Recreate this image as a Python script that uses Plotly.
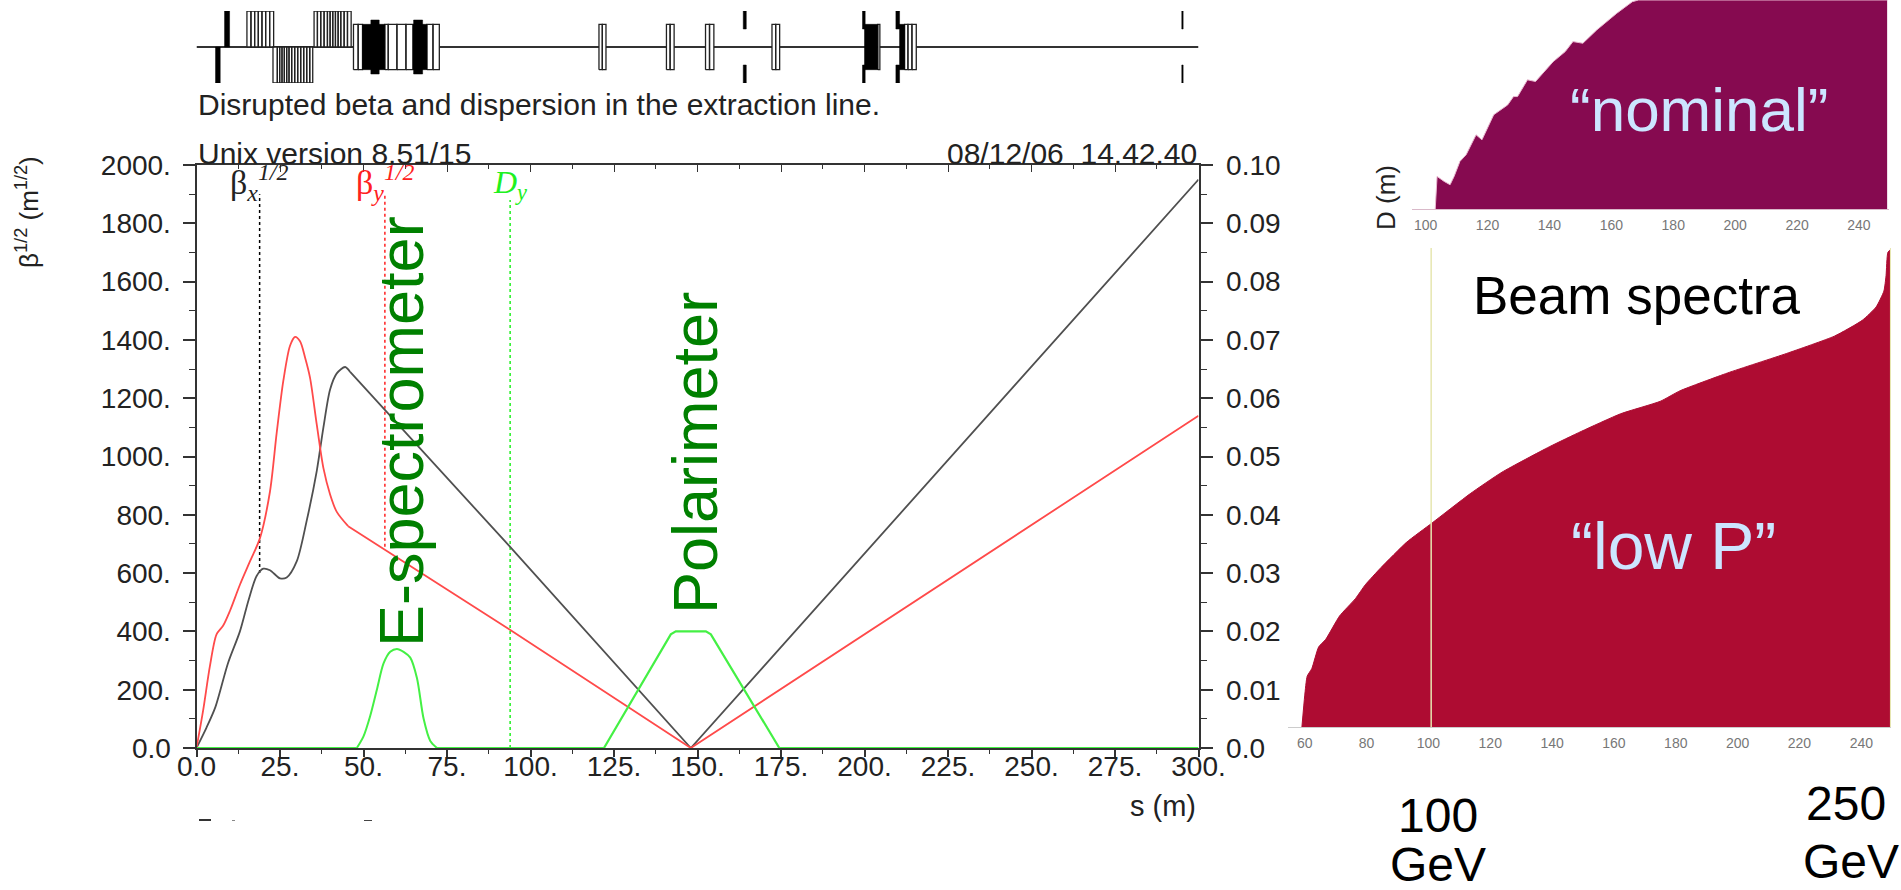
import plotly.graph_objects as go

W, H = 1901, 890
FONT = "Liberation Sans"
SERIF = "Liberation Serif"

# ---- optics plot data (curved part, then straight drift part)
s_betax = [0, 3, 5.7, 9.4, 13, 15.6, 18, 20, 22, 25, 27, 30, 33, 36, 38, 40, 42, 44.5, 46]
betax = [0, 70, 142, 290, 400, 508, 590, 615, 610, 582, 585, 640, 780, 950, 1100, 1230, 1285, 1307, 1290]
s_betax_drift = [46, 93.5, 148, 300]
betax_drift = [1290, 695, 0, 1950]
s_betay = [0, 2, 4, 6, 8, 10, 13, 16, 19, 22, 24, 26, 28, 29.5, 31, 32.5, 34, 36, 38, 40, 42, 45.4]
betay = [0, 130, 280, 390, 420, 470, 560, 640, 720, 880, 1080, 1260, 1380, 1410, 1395, 1340, 1270, 1110, 960, 870, 810, 761]
s_betay_drift = [45.4, 93.5, 148, 300]
betay_drift = [761, 408, 0, 1140]
s_dy_bump = [48, 50, 52, 54, 56, 58, 60, 62, 64, 66, 68, 70, 72]
dy_bump = [0, .002, .0055, .01, .0145, .0165, .017, .0165, .0155, .012, .005, .0012, 0]
s_dy = [0, 48, None, 72, 122, 142, 143.5, 152.5, 154, 174.5, 300]
dy = [0, 0, None, 0, 0, .0195, .02, .02, .0195, 0, 0]

s_ticks = [0, 25, 50, 75, 100, 125, 150, 175, 200, 225, 250, 275, 300]
s_labels = ["0.0", "25.", "50.", "75.", "100.", "125.", "150.", "175.", "200.", "225.", "250.", "275.", "300."]
b_ticks = [0, 200, 400, 600, 800, 1000, 1200, 1400, 1600, 1800, 2000]
b_labels = ["0.0", "200.", "400.", "600.", "800.", "1000.", "1200.", "1400.", "1600.", "1800.", "2000."]
d_ticks = [0, .01, .02, .03, .04, .05, .06, .07, .08, .09, .10]
d_labels = ["0.0", "0.01", "0.02", "0.03", "0.04", "0.05", "0.06", "0.07", "0.08", "0.09", "0.10"]

legend_s = [18.9, 56.4, 93.9]
legend_bottom = [600, 690, 0]
legend_top = [1900, 1900, 1880]

# ---- beamline elements (s start, s end, low, high)
solid_start = [8.4, 5.7, 49.7, 52.2, 64.8, 65, 163.7, 163.7, 199.4, 199.4, 200, 209.4, 209.4, 210.5, 295, 295]
solid_end = [9.9, 7.1, 56.4, 54.7, 69, 67.7, 164.6, 164.6, 200.2, 200.2, 204, 210.5, 210.5, 212, 295.4, 295.4]
solid_low = [0, -1, -.63, -.75, -.63, -.75, .5, -1, .5, -1, -.63, .5, -1, -.63, .5, -1]
solid_high = [1, 0, .63, .75, .63, .75, 1, -.5, 1, -.5, .63, 1, -.5, .63, 1, -.5]

hollow_low = [0, -1, 0, -.63, -.63, -.63, -.63, -.63, -.63, -.63, -.63, -.63]
hollow_high = [1, 0, 1, .63, .63, .63, .63, .63, .63, .63, .63, .63]
hollow_edges = [
    [15.1, 16.3, 17.4, 18.5, 19.6, 20.7, 21.9, 23.1],
    [22.9, 24.2, 24.9, 25.6, 26.3, 27, 27.7, 28.5, 29.4, 30.3, 31.2, 32.1, 33, 33.9, 34.8],
    [35.2, 36.2, 37.2, 38.2, 39.2, 40, 40.8, 41.6, 42.4, 43.2, 44.2, 45.2, 46.3],
    [47, 48.4, 49.7],
    [56.4, 57.4, 60, 62.7, 64.8],
    [69, 70.8, 72.7],
    [120.5, 121.5, 122.6],
    [140.7, 141.8, 143],
    [152.4, 153.6, 154.9],
    [172.3, 173.4, 174.6],
    [204, 204.6],
    [212, 213, 214.2, 215.5],
]

# ---- beam spectra data
nominal_e = [103.1, 103.7, 106, 107.9, 109.2, 111.1, 113.1, 116.3, 118.2, 122, 126.5, 128.4, 129.7, 132.9, 135.5, 141.2, 145.1, 147.6, 150.8, 155.3, 161.7, 166.8, 168.8, 249.1]
nominal_n = [0, 15.6, 13.2, 11.6, 15.6, 22.8, 26, 35.5, 33.1, 45.1, 49.8, 53.8, 53.8, 61.8, 61, 70.5, 75.3, 80.1, 79.3, 85.7, 93.6, 99.2, 100, 100]
lowp_e = [59.1, 60, 60.8, 62.3, 64.5, 66.8, 71.3, 76.4, 79.6, 84.7, 93, 101.2, 113.5, 123.8, 139.1, 149.4, 162.2, 175, 181.4, 196.7, 215.9, 231.3, 240.3, 244.8, 247.3, 248, 248.6, 250]
lowp_n = [0, 6.5, 10.6, 12.2, 16.7, 18.3, 23.2, 26.8, 29.7, 33.3, 38.6, 42.6, 48.7, 53.2, 58.5, 61.7, 65.4, 68, 70.2, 73.9, 78, 81.6, 84.9, 87.7, 91, 94.2, 99.1, 100]
nominal_ticks = [100, 120, 140, 160, 180, 200, 220, 240]
lowp_ticks = [60, 80, 100, 120, 140, 160, 180, 200, 220, 240]
marker_e = [100.9, 249.5]
marker_top = [102.7, 152]
marker_bottom = -7.7


def px(x):
    return x / W


def py(y):
    return 1 - y / H


fig = go.Figure()

# beamline
xs, ys = [], []
for a, b, lo, hi in zip(solid_start, solid_end, solid_low, solid_high):
    xs += [a, b, b, a, a, None]
    ys += [lo, lo, hi, hi, lo, None]
hx, hy = [], []
for edges, lo, hi in zip(hollow_edges, hollow_low, hollow_high):
    for a, b in zip(edges[:-1], edges[1:]):
        hx += [a, b, b, a, a, None]
        hy += [lo, lo, hi, hi, lo, None]
fig.add_trace(go.Scatter(x=[0, 300], y=[0, 0], xaxis="x3", yaxis="y3", mode="lines",
                         line=dict(color="#333333", width=2), showlegend=False))
fig.add_trace(go.Scatter(x=hx, y=hy, xaxis="x3", yaxis="y3", mode="lines", fill="toself", fillcolor="white",
                         line=dict(color="#222222", width=1.3), showlegend=False))
fig.add_trace(go.Scatter(x=xs, y=ys, xaxis="x3", yaxis="y3", mode="lines", fill="toself", fillcolor="black",
                         line=dict(color="black", width=0.5), showlegend=False))

# legend stems
for s0, lo, hi, col in zip(legend_s, legend_bottom, legend_top, ["black", "#ff2020", "#20f020"]):
    fig.add_trace(go.Scatter(x=[s0, s0], y=[lo, hi], mode="lines",
                             line=dict(color=col, width=1.5, dash="dot"), showlegend=False))

# optics
BLACK, RED, GREEN = "#505050", "#ff4a4a", "#44f044"
fig.add_trace(go.Scatter(x=s_betax, y=betax, mode="lines", line=dict(color=BLACK, width=1.8, shape="spline", smoothing=0.8), showlegend=False))
fig.add_trace(go.Scatter(x=s_betax_drift, y=betax_drift, mode="lines", line=dict(color=BLACK, width=1.8), showlegend=False))
fig.add_trace(go.Scatter(x=s_betay, y=betay, mode="lines", line=dict(color=RED, width=1.8, shape="spline", smoothing=0.8), showlegend=False))
fig.add_trace(go.Scatter(x=s_betay_drift, y=betay_drift, mode="lines", line=dict(color=RED, width=1.8), showlegend=False))
fig.add_trace(go.Scatter(x=s_dy, y=dy, yaxis="y2", mode="lines", line=dict(color=GREEN, width=2.2),
                         cliponaxis=False, showlegend=False))
fig.add_trace(go.Scatter(x=s_dy_bump, y=dy_bump, yaxis="y2", mode="lines",
                         line=dict(color=GREEN, width=2, shape="spline", smoothing=0.8),
                         cliponaxis=False, showlegend=False))

# spectra
fig.add_trace(go.Scatter(x=nominal_e, y=nominal_n, xaxis="x4", yaxis="y4", mode="lines", fill="tozeroy",
                         fillcolor="#860a50", line=dict(color="#e9b8d0", width=1), showlegend=False))
fig.add_trace(go.Scatter(x=lowp_e, y=lowp_n, xaxis="x5", yaxis="y5", mode="lines", fill="tozeroy",
                         fillcolor="#ae0c32", line=dict(color="#ae0c32", width=1, shape="spline", smoothing=0.5),
                         showlegend=False))
for e0, top in zip(marker_e, marker_top):
    fig.add_trace(go.Scatter(x=[e0, e0], y=[marker_bottom, top], xaxis="x5", yaxis="y5", mode="lines",
                             cliponaxis=False, line=dict(color="#e6e6b0", width=1.5), showlegend=False))
# top mirror axis is carried by an invisible trace
fig.add_trace(go.Scatter(x=[0], y=[0], xaxis="x2", yaxis="y", mode="markers", marker=dict(opacity=0), showlegend=False))

tick_font = dict(family=FONT, size=28, color="#222222")
small = dict(family=FONT, size=14, color="#777777")
X0, X1, Y0, Y1 = 196.5, 1198.5, 748, 165

fig.update_layout(
    width=W, height=H, autosize=False, margin=dict(l=0, r=0, t=0, b=0, autoexpand=False),
    paper_bgcolor="white", plot_bgcolor="rgba(0,0,0,0)", showlegend=False,
    xaxis=dict(domain=[px(X0), px(X1)], range=[0, 300], anchor="y", showgrid=False, zeroline=False,
               showline=True, linecolor="#333333", linewidth=2, ticks="outside", ticklen=7, tickwidth=1.5,
               tickcolor="#333333", tickmode="array", tickvals=s_ticks, ticktext=s_labels, tickfont=tick_font,
               ticklabelstandoff=-15,
               minor=dict(ticks="outside", dtick=12.5, ticklen=4, tickcolor="#333333", tickwidth=1.2)),
    yaxis=dict(domain=[py(Y0), py(Y1)], range=[0, 2000], anchor="x", showgrid=False, zeroline=False,
               showline=True, linecolor="#333333", linewidth=2, ticks="outside", ticklen=12, tickwidth=1.5,
               tickcolor="#333333", tickmode="array", tickvals=b_ticks, ticktext=b_labels, tickfont=tick_font,
               ticklabelstandoff=6,
               minor=dict(ticks="outside", dtick=100, ticklen=6, tickcolor="#333333", tickwidth=1.2)),
    yaxis2=dict(domain=[py(Y0), py(Y1)], range=[0, 0.1], anchor="x", overlaying="y", side="right", showgrid=False,
                zeroline=False, showline=True, linecolor="#333333", linewidth=2, ticks="outside", ticklen=12,
                tickwidth=1.5, tickcolor="#333333", tickmode="array", tickvals=d_ticks, ticktext=d_labels,
                tickfont=tick_font, ticklabelstandoff=8,
                minor=dict(ticks="outside", dtick=0.005, ticklen=6, tickcolor="#333333", tickwidth=1.2)),
    xaxis2=dict(domain=[px(X0), px(X1)], range=[0, 300], anchor="y", overlaying="x", side="top", showgrid=False,
                zeroline=False, showline=True, linecolor="#333333", linewidth=2, ticks="inside", ticklen=7,
                tickwidth=1.2, tickcolor="#333333", tickmode="array", tickvals=s_ticks, showticklabels=False,
                minor=dict(ticks="inside", dtick=12.5, ticklen=4, tickcolor="#333333", tickwidth=1.2)),
    xaxis3=dict(domain=[px(X0), px(X1)], range=[0, 300], anchor="y3", visible=False),
    yaxis3=dict(domain=[py(83), py(11)], range=[-1, 1], anchor="x3", visible=False),
    xaxis4=dict(domain=[px(1412), px(1889)], range=[95.6, 249.7], anchor="y4", showgrid=False, zeroline=False,
                showline=True, linecolor="#d9b9c9", linewidth=1, ticks="", tickmode="array", tickvals=nominal_ticks,
                tickfont=small, ticklabelstandoff=3),
    yaxis4=dict(domain=[py(209), 1], range=[0, 100], anchor="x4", visible=False),
    xaxis5=dict(domain=[px(1288), px(1891)], range=[54.6, 249.6], anchor="y5", showgrid=False, zeroline=False,
                showline=True, linecolor="#cccccc", linewidth=1, ticks="", tickmode="array", tickvals=lowp_ticks,
                tickfont=small, ticklabelstandoff=3),
    yaxis5=dict(domain=[py(727), py(248)], range=[0, 100], anchor="x5", visible=False),
    shapes=[
        dict(type="rect", xref="paper", yref="paper", x0=px(199), x1=px(211), y0=py(821), y1=py(819),
             fillcolor="#333333", line_width=0),
        dict(type="rect", xref="paper", yref="paper", x0=px(232), x1=px(235), y0=py(821), y1=py(820),
             fillcolor="#888888", line_width=0),
        dict(type="rect", xref="paper", yref="paper", x0=px(364), x1=px(372), y0=py(821), y1=py(820),
             fillcolor="#444444", line_width=0),
    ],
)


def note(text, x, y, size, color="black", family=FONT, angle=0, xanchor="center", yanchor="middle"):
    fig.add_annotation(text=text, x=px(x), y=py(y), xref="paper", yref="paper", showarrow=False, textangle=angle,
                       xanchor=xanchor, yanchor=yanchor, font=dict(family=family, size=size, color=color))


note("Disrupted beta and dispersion in the extraction line.", 196, 105, 30, "#222222", xanchor="left")
note("Unix version 8.51/15", 196, 154, 30, "#222222", xanchor="left")
note("08/12/06  14.42.40", 1199, 154, 30, "#222222", xanchor="right")
note("s (m)", 1198, 806, 29, "#222222", xanchor="right")
note("β<sup>1/2</sup> (m<sup>1/2</sup>)", 27, 212, 26, "#222222", angle=-90)
note("β<sub><i>x</i></sub><sup><i>1/2</i></sup>", 259, 183, 34, "#222222", SERIF)
note("β<sub><i>y</i></sub><sup><i>1/2</i></sup>", 385, 183, 34, "#ff2020", SERIF)
note("<i>D<sub>y</sub></i>", 510, 184, 32, "#20f020", SERIF)
note("E-spectrometer", 401, 432, 63, "#008000", angle=-90)
note("Polarimeter", 695, 453, 63, "#008000", angle=-90)
note("Beam spectra", 1637, 295, 53)
note("“nominal”", 1699, 109, 62, "#cce5ff")
note("“low P”", 1673, 546, 66, "#cce5ff")
note("D (m)", 1386, 198, 26, "#222222", angle=-90)
note("100", 1438, 815, 48)
note("GeV", 1438, 864, 48)
note("250", 1846, 803, 48)
note("GeV", 1851, 861, 48)

fig.write_html("out.html", post_script='document.body.style.margin="0";', config=dict(displayModeBar=False))
